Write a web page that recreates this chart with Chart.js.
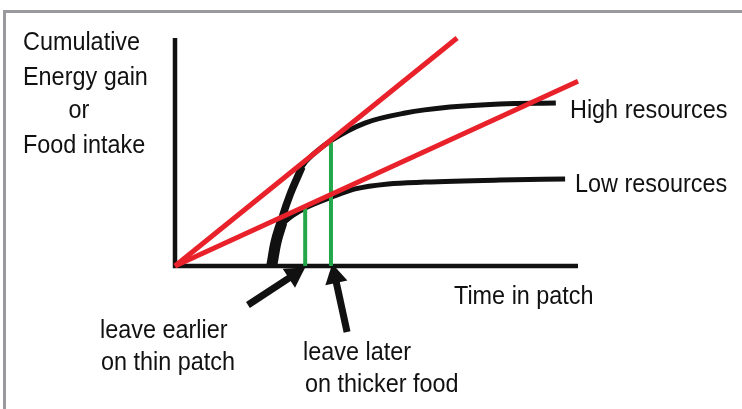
<!DOCTYPE html>
<html>
<head>
<meta charset="utf-8">
<script src="https://cdn.jsdelivr.net/npm/chart.js@4.4.1/dist/chart.umd.min.js"></script>
<style>
  html, body { margin: 0; padding: 0; background: #fff; }
  canvas { display: block; }
</style>
</head>
<body>
<canvas id="patchChart" width="742" height="409"></canvas>
<script>
// Cumulative gain curves (time in patch, 0-100 / gain, 0-100)
const highTime = [24.1, 25.1, 26.8, 28.5, 31.5, 34.7, 39.0, 47.1, 57.1, 68.2, 80.6, 94.5];
const highGain = [0, 11.4, 22.4, 31.1, 43.4, 49.6, 55.3, 62.7, 67.1, 69.7, 71.1, 71.5];
const lowTime = [24.1, 25.1, 26.8, 29.0, 32.3, 39.0, 44.7, 52.9, 62.0, 80.6, 96.8];
const lowGain = [0, 9.2, 18.0, 21.9, 25.4, 30.3, 33.8, 36.0, 36.8, 37.7, 38.2];
// thick common start of both curves
const trunkTime = [24.0, 25.0, 26.5];
const trunkGain = [0, 10, 19];

// tangent (rate) lines from the origin
const rateTime = [0, 70, 100];
const rateHighGain = [0, 100];
const rateLowGain = [0, 81];

// leaving times (green)
const leaveTime = [32.3, 38.7];
const leaveGain = [26, 55.3];

// arrows: tail -> head
const arrowTailX = [18.1, 42.7];
const arrowTailY = [-17.1, -28.9];
const arrowHeadX = [29.6, 39.7];
const arrowHeadY = [-3.8, -4.6];

const axisX = [0, 100];
const axisY = [0, 100];

const RED = "#e8212a";
const GREEN = "#22a84a";
const INK = "#111111";

function pts(xs, ys) {
    return xs.map((x, i) => ({ x: x, y: ys[i] }));
}

function line(data, color, width, extra) {
    return Object.assign({
        data: data,
        borderColor: color,
        borderWidth: width,
        pointRadius: 0,
        fill: false,
        clip: false,
        tension: 0
    }, extra || {});
}

function arrow(i) {
    return line(
        [{ x: arrowTailX[i], y: arrowTailY[i] }, { x: arrowHeadX[i], y: arrowHeadY[i] }],
        INK, 7,
        {
            pointStyle: "triangle",
            pointRadius: ctx => ctx.dataIndex === 1 ? 13 : 0,
            pointBackgroundColor: INK,
            pointBorderWidth: 0,
            pointRotation: ctx => {
                const sx = ctx.chart.scales.x, sy = ctx.chart.scales.y;
                const dx = sx.getPixelForValue(arrowHeadX[i]) - sx.getPixelForValue(arrowTailX[i]);
                const dy = sy.getPixelForValue(arrowHeadY[i]) - sy.getPixelForValue(arrowTailY[i]);
                return Math.atan2(dx, -dy) * 180 / Math.PI;
            }
        }
    );
}

// text and frame
const textItems = [
    { t: "Cumulative", x: 23, y: 50 },
    { t: "Energy gain", x: 23, y: 85 },
    { t: "or", x: 79, y: 118, center: true },
    { t: "Food intake", x: 23, y: 153 },
    { t: "High resources", x: 570, y: 118 },
    { t: "Low resources", x: 575, y: 192 },
    { t: "Time in patch", x: 454, y: 304 },
    { t: "leave earlier", x: 100, y: 338 },
    { t: "on thin patch", x: 101, y: 370 },
    { t: "leave later", x: 303, y: 360 },
    { t: "on thicker food", x: 305, y: 392 }
];

const decor = {
    id: "decor",
    beforeDraw(chart) {
        const c = chart.ctx;
        c.save();
        c.fillStyle = "#fff";
        c.fillRect(0, 0, chart.width, chart.height);
        c.fillStyle = "#9a9a9e";
        c.fillRect(3, 10, chart.width - 3, 3);
        c.fillRect(3, 10, 3, chart.height - 10);
        c.restore();
    },
    afterDraw(chart) {
        const c = chart.ctx;
        c.save();
        c.fillStyle = "#111";
        c.font = "26px 'Liberation Sans', Arial, sans-serif";
        c.textBaseline = "alphabetic";
        textItems.forEach(item => {
            c.save();
            c.translate(item.x, item.y);
            c.scale(0.9, 1);
            c.textAlign = item.center ? "center" : "left";
            c.fillText(item.t, 0, 0);
            c.restore();
        });
        c.restore();
    }
};

const ctx = document.getElementById("patchChart").getContext("2d");

new Chart(ctx, {
    type: "line",
    data: {
        datasets: [
            line(pts([rateTime[0], rateTime[1]], rateHighGain), RED, 5),
            line(pts([rateTime[0], rateTime[2]], rateLowGain), RED, 5),
            line(pts([leaveTime[0], leaveTime[0]], [0, leaveGain[0]]), GREEN, 4),
            line(pts([leaveTime[1], leaveTime[1]], [0, leaveGain[1]]), GREEN, 4),
            line(pts(trunkTime, trunkGain), INK, 11, { cubicInterpolationMode: "monotone" }),
            line(pts(highTime.slice(0, 5), highGain.slice(0, 5)), INK, 7.5, { cubicInterpolationMode: "monotone" }),
            line(pts(highTime, highGain), INK, 5, { cubicInterpolationMode: "monotone" }),
            line(pts(lowTime, lowGain), INK, 5, { cubicInterpolationMode: "monotone" }),
            line(pts([axisX[0], axisX[0], axisX[1]], [axisY[1], axisY[0], axisY[0]]), INK, 4.5, { borderJoinStyle: "miter" }),
            arrow(0),
            arrow(1)
        ]
    },
    options: {
        responsive: false,
        animation: false,
        layout: { padding: { left: 175, right: 164, top: 38, bottom: 143 } },
        plugins: { legend: { display: false }, tooltip: { enabled: false } },
        scales: {
            x: { type: "linear", min: 0, max: 100, display: false },
            y: { type: "linear", min: 0, max: 100, display: false }
        }
    },
    plugins: [decor]
});
</script>
</body>
</html>
